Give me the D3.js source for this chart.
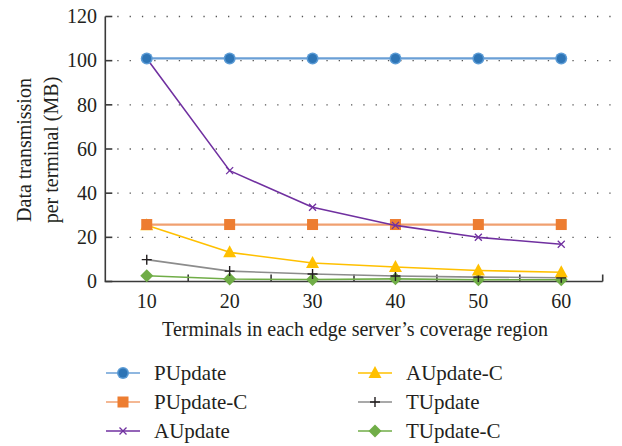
<!DOCTYPE html>
<html><head><meta charset="utf-8">
<script src="https://cdn.jsdelivr.net/npm/d3@7"></script>
<style>body{margin:0;background:#fff}svg{display:block}</style>
</head><body><svg id="c" width="622" height="446" font-family="'Liberation Serif', 'Times New Roman', Times, serif"></svg>
<script>
const terminals = [10, 20, 30, 40, 50, 60];
const pUpdate  = [101, 101, 101, 101, 101, 101];
const pUpdateC = [25.8, 25.8, 25.8, 25.8, 25.8, 25.8];
const aUpdate  = [101, 50.2, 33.6, 25.4, 20, 16.9];
const aUpdateC = [25.5, 13.2, 8.4, 6.6, 5, 4.2];
const tUpdate  = [9.9, 4.7, 3.4, 2.5, 2, 1.7];
const tUpdateC = [2.6, 1.1, 0.9, 1.2, 0.8, 0.8];
const yTicks = [0, 20, 40, 60, 80, 100, 120];
const xLabelTicks = [10, 20, 30, 40, 50, 60];
const xMinorTicks = [15, 25, 35, 45, 55, 65];

const series = [
  {name:"PUpdate",   values:pUpdate,  line:"#6a9fd6", color:"#2e75b6", marker:"circle"},
  {name:"PUpdate-C", values:pUpdateC, line:"#f0a070", color:"#ed7d31", marker:"square"},
  {name:"AUpdate",   values:aUpdate,  line:"#7030a0", color:"#7030a0", marker:"cross"},
  {name:"AUpdate-C", values:aUpdateC, line:"#ffc000", color:"#ffc000", marker:"triangle"},
  {name:"TUpdate",   values:tUpdate,  line:"#8c8c8c", color:"#231f20", marker:"plus"},
  {name:"TUpdate-C", values:tUpdateC, line:"#70ad47", color:"#70ad47", marker:"diamond"}
];

const svg = d3.select("#c");
const x = d3.scaleLinear().domain([5, 65]).range([105.3, 602.7]);
const y = d3.scaleLinear().domain([0, 120]).range([281.5, 16.5]);
const txt = "#231f20";

// grid
svg.append("g").selectAll("line").data(yTicks.filter(d=>d>0)).join("line")
  .attr("x1", x(5)+12).attr("x2", 611).attr("y1", d=>y(d)).attr("y2", d=>y(d))
  .attr("stroke", "#555").attr("stroke-width", 1.3).attr("stroke-dasharray", "1.3 11");

// axes
const ax = svg.append("g").attr("stroke", "#3a3a3a").attr("stroke-width", 1.6).attr("fill","none");
ax.append("path").attr("d", `M${x(5)},${y(120)}V${y(0)}H${x(65)}`);
ax.selectAll(".yt").data(yTicks).join("line").attr("class","yt")
  .attr("x1", x(5)).attr("x2", x(5)+7).attr("y1", d=>y(d)).attr("y2", d=>y(d));
ax.selectAll(".xt").data(xMinorTicks).join("line").attr("class","xt")
  .attr("x1", d=>x(d)).attr("x2", d=>x(d)).attr("y1", y(0)).attr("y2", y(0)-7);

svg.append("g").selectAll("text").data(yTicks).join("text")
  .attr("x", 97).attr("y", d=>y(d)).attr("dy", "0.34em").attr("text-anchor","end")
  .attr("font-size", 20).attr("fill", txt).text(d=>d);
svg.append("g").selectAll("text").data(xLabelTicks).join("text")
  .attr("x", d=>x(d)).attr("y", 308).attr("text-anchor","middle")
  .attr("font-size", 20).attr("fill", txt).text(d=>d);

svg.append("text").attr("x", 355).attr("y", 336).attr("text-anchor","middle")
  .attr("font-size", 20).attr("fill", txt).text("Terminals in each edge server\u2019s coverage region");
const yt = svg.append("text").attr("transform", "translate(0,150) rotate(-90)")
  .attr("text-anchor","middle").attr("font-size", 20).attr("fill", txt);
yt.append("tspan").attr("x",0).attr("y",31).text("Data transmission");
yt.append("tspan").attr("x",0).attr("y",58).text("per terminal (MB)");

function drawMarker(g, type, cx, cy, color){
  if(type==="circle"){
    g.append("circle").attr("cx",cx).attr("cy",cy).attr("r",6).attr("fill","#5b9bd5");
    g.append("circle").attr("cx",cx).attr("cy",cy).attr("r",4.5).attr("fill",color);
  } else if(type==="square"){
    g.append("rect").attr("x",cx-5.5).attr("y",cy-5.5).attr("width",11).attr("height",11).attr("fill",color);
  } else if(type==="triangle"){
    g.append("path").attr("d",`M${cx},${cy-7}L${cx+6.5},${cy+5}L${cx-6.5},${cy+5}Z`).attr("fill",color);
  } else if(type==="diamond"){
    g.append("path").attr("d",`M${cx},${cy-6.5}L${cx+6.5},${cy}L${cx},${cy+6.5}L${cx-6.5},${cy}Z`).attr("fill",color);
  } else if(type==="cross"){
    g.append("path").attr("d",`M${cx-3.5},${cy-3.5}L${cx+3.5},${cy+3.5}M${cx-3.5},${cy+3.5}L${cx+3.5},${cy-3.5}`)
      .attr("stroke",color).attr("stroke-width",1.3).attr("fill","none");
  } else if(type==="plus"){
    g.append("path").attr("d",`M${cx-5},${cy}H${cx+5}M${cx},${cy-5}V${cy+5}`)
      .attr("stroke",color).attr("stroke-width",1.4).attr("fill","none");
  }
}

const line = d3.line().x(d=>x(d[0])).y(d=>y(d[1]));
const order = [5,4,3,1,2,0];
order.forEach(i=>{
  const s = series[i];
  const pts = terminals.map((t,j)=>[t, s.values[j]]);
  const g = svg.append("g");
  g.append("path").attr("d", line(pts)).attr("fill","none").attr("stroke", s.line)
    .attr("stroke-width", (i<2)?2.2:1.6).attr("stroke-linejoin","round");
  pts.forEach(p=>drawMarker(g, s.marker, x(p[0]), y(p[1]), s.color));
});

// legend
const legX = [106, 358], legY = [373, 402, 431];
series.forEach((s,i)=>{
  const col = Math.floor(i/3), row = i%3;
  const g = svg.append("g");
  const lx = legX[col], ly = legY[row];
  g.append("line").attr("x1",lx).attr("x2",lx+34).attr("y1",ly).attr("y2",ly)
    .attr("stroke", s.line).attr("stroke-width", 1.6);
  drawMarker(g, s.marker, lx+17, ly, s.color);
  g.append("text").attr("x", lx+48).attr("y", ly).attr("dy","0.33em")
    .attr("font-size", 21).attr("fill", txt).text(s.name);
});
</script></body></html>
